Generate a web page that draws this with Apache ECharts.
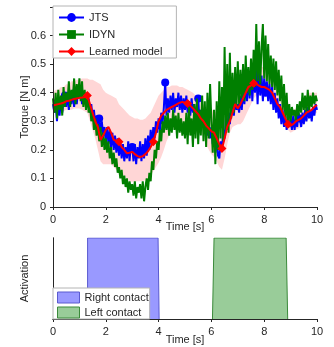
<!DOCTYPE html>
<html>
<head>
<meta charset="utf-8">
<script src="https://cdn.jsdelivr.net/npm/echarts@6/dist/echarts.min.js"></script>
<style>html,body{margin:0;padding:0;background:#fff}#c{width:334px;height:347px}</style>
</head>
<body>
<div id="c"></div>
<script>
// ---- time bases (x positions) ----
const t05 = Array.from({length: 201}, (_, i) => +(i * 0.05).toFixed(2));
const t10 = Array.from({length: 101}, (_, i) => +(i * 0.1).toFixed(1));
const xTicks = [0, 2, 4, 6, 8, 10];
const yTicks = [0, 0.1, 0.2, 0.3, 0.4, 0.5, 0.6];

// ---- JTS torque (every 0.05 s) ----
const jts = [
0.36,0.33,0.37,0.30,0.36,0.32,0.38,0.33,0.37,0.39,0.35,0.40,0.34,0.39,0.36,0.41,0.35,0.40,0.36,0.41,
0.38,0.41,0.36,0.40,0.37,0.39,0.35,0.38,0.33,0.36,0.31,0.34,0.29,0.32,0.28,0.31,0.26,0.30,0.25,0.28,
0.23,0.28,0.22,0.27,0.21,0.26,0.20,0.25,0.19,0.24,0.18,0.23,0.17,0.22,0.16,0.21,0.17,0.23,0.16,0.22,
0.21,0.16,0.22,0.15,0.21,0.17,0.23,0.16,0.22,0.17,0.24,0.18,0.25,0.20,0.27,0.22,0.28,0.24,0.30,0.26,
0.31,0.27,0.33,0.29,0.35,0.436,0.32,0.38,0.33,0.39,0.34,0.40,0.33,0.38,0.35,0.40,0.34,0.39,0.33,0.38,
0.34,0.39,0.33,0.37,0.32,0.38,0.33,0.36,0.32,0.35,0.38,0.30,0.34,0.28,0.33,0.26,0.31,0.25,0.29,0.24,
0.28,0.22,0.27,0.19,0.25,0.18,0.17,0.23,0.20,0.27,0.24,0.31,0.27,0.33,0.29,0.35,0.36,0.32,0.38,0.34,
0.36,0.33,0.39,0.34,0.41,0.36,0.44,0.37,0.46,0.38,0.48,0.37,0.47,0.40,0.48,0.36,0.49,0.39,0.46,0.37,
0.45,0.40,0.44,0.37,0.43,0.36,0.42,0.34,0.40,0.33,0.38,0.31,0.36,0.29,0.34,0.28,0.32,0.27,0.30,0.28,
0.31,0.27,0.32,0.27,0.31,0.28,0.33,0.31,0.28,0.33,0.29,0.34,0.30,0.35,0.31,0.34,0.30,0.35,0.32,0.36,
0.34];
const jtsMarks = [9, 35, 60, 85, 110, 136, 161, 187];

// ---- IDYN torque (every 0.05 s) ----
const idyn = [
0.38,0.33,0.40,0.31,0.41,0.34,0.39,0.32,0.42,0.35,0.40,0.37,0.44,0.35,0.41,0.38,0.45,0.36,0.43,0.38,
0.45,0.37,0.44,0.35,0.41,0.34,0.40,0.33,0.36,0.30,0.33,0.27,0.31,0.25,0.29,0.23,0.28,0.21,0.26,0.20,
0.24,0.19,0.23,0.17,0.21,0.15,0.19,0.14,0.17,0.12,0.14,0.10,0.13,0.08,0.11,0.07,0.10,0.05,0.09,0.06,
0.08,0.04,0.09,0.03,0.07,0.05,0.08,0.03,0.09,0.02,0.07,0.10,0.06,0.12,0.09,0.16,0.13,0.20,0.17,0.23,
0.20,0.27,0.23,0.30,0.26,0.32,0.27,0.33,0.25,0.31,0.26,0.34,0.27,0.32,0.24,0.33,0.26,0.31,0.25,0.30,
0.24,0.33,0.22,0.35,0.25,0.31,0.21,0.36,0.24,0.38,0.22,0.34,0.25,0.39,0.23,0.37,0.21,0.40,0.24,0.43,
0.30,0.19,0.34,0.15,0.37,0.20,0.44,0.24,0.42,0.23,0.56,0.27,0.50,0.26,0.54,0.31,0.47,0.33,0.49,0.35,
0.51,0.36,0.48,0.38,0.50,0.37,0.53,0.40,0.49,0.39,0.52,0.41,0.55,0.42,0.64,0.44,0.58,0.43,0.56,0.64,
0.45,0.60,0.44,0.57,0.43,0.53,0.42,0.52,0.41,0.51,0.39,0.48,0.37,0.46,0.34,0.43,0.31,0.40,0.29,0.36,
0.30,0.35,0.32,0.34,0.30,0.36,0.32,0.37,0.33,0.40,0.34,0.39,0.33,0.41,0.34,0.39,0.35,0.40,0.36,0.39,
0.37];

// ---- Learned model mean and band (every 0.1 s) ----
const model = [
0.355,0.358,0.36,0.362,0.365,0.37,0.372,0.375,0.378,0.38,
0.382,0.383,0.385,0.39,0.36,0.33,0.30,0.28,0.235,0.25,
0.27,0.28,0.26,0.235,0.232,0.228,0.21,0.20,0.188,0.19,
0.193,0.185,0.178,0.175,0.178,0.185,0.195,0.21,0.228,0.26,
0.30,0.32,0.33,0.34,0.345,0.35,0.355,0.36,0.365,0.368,
0.365,0.362,0.355,0.345,0.335,0.325,0.31,0.30,0.285,0.275,
0.265,0.26,0.24,0.22,0.205,0.24,0.28,0.30,0.33,0.36,
0.345,0.36,0.38,0.40,0.42,0.425,0.433,0.43,0.425,0.42,
0.42,0.415,0.41,0.40,0.38,0.36,0.35,0.33,0.31,0.29,
0.285,0.29,0.30,0.305,0.31,0.32,0.33,0.335,0.34,0.35,
0.357];
const modelMarks = [13, 25, 38, 51, 64, 76, 89];
const bandUpper = [
0.40,0.41,0.41,0.42,0.42,0.43,0.43,0.44,0.44,0.445,
0.445,0.45,0.45,0.45,0.445,0.445,0.44,0.435,0.43,0.41,
0.40,0.395,0.39,0.385,0.38,0.36,0.35,0.34,0.33,0.32,
0.315,0.31,0.31,0.305,0.305,0.31,0.32,0.33,0.35,0.37,
0.39,0.40,0.41,0.42,0.42,0.425,0.425,0.425,0.42,0.42,
0.415,0.41,0.405,0.40,0.39,0.38,0.37,0.36,0.35,0.34,
0.34,0.335,0.33,0.32,0.31,0.32,0.34,0.36,0.38,0.40,
0.41,0.42,0.43,0.44,0.45,0.46,0.47,0.48,0.485,0.49,
0.49,0.48,0.47,0.46,0.45,0.43,0.42,0.41,0.39,0.37,
0.34,0.34,0.345,0.35,0.36,0.38,0.39,0.40,0.40,0.40,
0.40];
const bandLower = [
0.33,0.33,0.33,0.335,0.335,0.34,0.34,0.34,0.345,0.345,
0.345,0.34,0.335,0.33,0.30,0.27,0.24,0.20,0.16,0.15,
0.15,0.15,0.15,0.14,0.13,0.12,0.115,0.11,0.10,0.09,
0.088,0.088,0.09,0.09,0.092,0.094,0.10,0.11,0.125,0.14,
0.155,0.175,0.20,0.23,0.25,0.27,0.28,0.285,0.29,0.29,
0.30,0.31,0.30,0.29,0.28,0.27,0.26,0.245,0.22,0.20,
0.185,0.175,0.16,0.14,0.13,0.17,0.22,0.26,0.28,0.285,
0.29,0.29,0.30,0.32,0.34,0.36,0.38,0.39,0.395,0.40,
0.40,0.40,0.395,0.38,0.36,0.345,0.33,0.31,0.29,0.27,
0.26,0.265,0.27,0.275,0.28,0.29,0.30,0.31,0.32,0.325,
0.33];

// ---- contact activation ----
const rightContactT = [1.31, 1.31, 3.98, 4.02];
const rightContactV = [0, 1, 1, 0];
const leftContactT = [6.04, 6.10, 8.83, 8.89];
const leftContactV = [0, 1, 1, 0];

const FONT = '"Liberation Sans", Arial, sans-serif';
const AX = '#262626';
const xy = (ts, vs) => vs.map((v, i) => [ts[i], v]);
const txt = {fontFamily: FONT, fontSize: 11, color: AX};
const line = {show: true, lineStyle: {color: AX, width: 1}};

const chart = echarts.init(document.getElementById('c'));
chart.setOption({
  animation: false,
  backgroundColor: '#fff',
  grid: [
    {left: 53, top: 7, width: 264, height: 200},
    {left: 53, top: 238, width: 264, height: 81}
  ],
  xAxis: [
    {type: 'value', gridIndex: 0, min: 0, max: 10, interval: 2, position: 'bottom', z: 6,
     name: 'Time [s]', nameLocation: 'middle', nameGap: 14, nameMoveOverlap: false, nameTextStyle: txt,
     axisLine: line, axisTick: {show: true, length: 3, lineStyle: {color: AX}},
     axisLabel: Object.assign({margin: 7}, txt), splitLine: {show: false}},
    {type: 'value', gridIndex: 0, min: 0, max: 10, interval: 2, position: 'top', z: 6,
     axisLine: line, axisTick: {show: true, inside: true, length: 3, lineStyle: {color: AX}},
     axisLabel: {show: false}, splitLine: {show: false}},
    {type: 'value', gridIndex: 1, min: 0, max: 10, interval: 2, position: 'bottom', z: 6,
     name: 'Time [s]', nameLocation: 'middle', nameGap: 15, nameMoveOverlap: false, nameTextStyle: txt,
     axisLine: line, axisTick: {show: true, length: 3, lineStyle: {color: AX}},
     axisLabel: Object.assign({margin: 7}, txt), splitLine: {show: false}},
    {type: 'value', gridIndex: 1, min: 0, max: 10, interval: 2, position: 'top', z: 6,
     axisLine: line, axisTick: {show: true, inside: true, length: 3, lineStyle: {color: AX}},
     axisLabel: {show: false}, splitLine: {show: false}}
  ],
  yAxis: [
    {type: 'value', gridIndex: 0, min: 0, max: 0.7, interval: 0.1, position: 'left', z: 6,
     name: 'Torque [N m]', nameLocation: 'middle', nameGap: 23, nameMoveOverlap: false, nameTextStyle: txt,
     axisLine: line, axisTick: {show: true, length: 3, lineStyle: {color: AX}},
     axisLabel: Object.assign({margin: 7, showMaxLabel: false,
       formatter: v => (yTicks.some(k => Math.abs(k - v) < 1e-6) ? String(+v.toFixed(1)) : '')}, txt),
     splitLine: {show: false}},
    {type: 'value', gridIndex: 0, min: 0, max: 0.7, interval: 0.1, position: 'right', z: 6,
     axisLine: line, axisTick: {show: true, inside: true, length: 3, lineStyle: {color: AX}},
     axisLabel: {show: false}, splitLine: {show: false}},
    {type: 'value', gridIndex: 1, min: 0, max: 1, position: 'left', z: 6,
     name: 'Activation', nameLocation: 'middle', nameGap: 23, nameMoveOverlap: false, nameTextStyle: txt,
     axisLine: line, axisTick: {show: false}, axisLabel: {show: false}, splitLine: {show: false}},
    {type: 'value', gridIndex: 1, min: 0, max: 1, position: 'right', z: 6,
     axisLine: line, axisTick: {show: false}, axisLabel: {show: false}, splitLine: {show: false}}
  ],
  legend: [
    {data: ['JTS', 'IDYN', 'Learned model'], orient: 'vertical', left: 53, top: 6,
     itemWidth: 25, itemHeight: 11, itemGap: 4, padding: [5, 14, 0, 5],
     backgroundColor: '#fff', borderColor: '#b4b4b4', borderWidth: 1, borderRadius: 0,
     textStyle: Object.assign({lineHeight: 13}, txt), selectedMode: false, z: 10},
    {data: [
      {name: 'Right contact', icon: 'rect', itemStyle: {color: '#9999ff', borderColor: '#5a5ad0', borderWidth: 1}},
      {name: 'Left contact', icon: 'rect', itemStyle: {color: '#99cc99', borderColor: '#3b8a3b', borderWidth: 1}}],
     orient: 'vertical', left: 53, top: 288,
     itemWidth: 22, itemHeight: 11, itemGap: 2, padding: [3, 1, 0, 4],
     backgroundColor: '#fff', borderColor: '#b4b4b4', borderWidth: 1, borderRadius: 0,
     textStyle: Object.assign({lineHeight: 13}, txt), selectedMode: false, z: 10}
  ],
  series: [
    {name: 'band-upper', type: 'line', xAxisIndex: 0, yAxisIndex: 0,
     data: xy(t10, bandUpper), symbol: 'none', lineStyle: {opacity: 0},
     areaStyle: {color: '#ffd6d6', opacity: 1, origin: 'start'}, silent: true, z: 1},
    {name: 'band-lower', type: 'line', xAxisIndex: 0, yAxisIndex: 0,
     data: xy(t10, bandLower), symbol: 'none', lineStyle: {opacity: 0},
     areaStyle: {color: '#ffffff', opacity: 1, origin: 'start'}, silent: true, z: 1},
    {name: 'JTS', type: 'line', xAxisIndex: 0, yAxisIndex: 0, data: xy(t05, jts),
     symbol: 'circle', showSymbol: true, symbolSize: (v, p) => (jtsMarks.includes(p.dataIndex) ? 8 : 0),
     color: '#0000ff', itemStyle: {color: '#0000ff'}, lineStyle: {color: '#0000ff', width: 2}, z: 3},
    {name: 'IDYN', type: 'line', xAxisIndex: 0, yAxisIndex: 0, data: xy(t05, idyn),
     symbol: 'rect', showSymbol: false,
     color: '#007f00', itemStyle: {color: '#007f00'}, lineStyle: {color: '#007f00', width: 2}, z: 4},
    {name: 'Learned model', type: 'line', xAxisIndex: 0, yAxisIndex: 0, data: xy(t10, model),
     symbol: 'diamond', showSymbol: true, symbolSize: (v, p) => (modelMarks.includes(p.dataIndex) ? 9 : 0),
     color: '#ff0000', itemStyle: {color: '#ff0000'}, lineStyle: {color: '#ff0000', width: 2}, z: 5},
    {name: 'Right contact', type: 'line', xAxisIndex: 2, yAxisIndex: 2, data: xy(rightContactT, rightContactV),
     symbol: 'none', color: '#9999ff', lineStyle: {color: '#5a5ad0', width: 1},
     areaStyle: {color: '#9999ff', opacity: 1}},
    {name: 'Left contact', type: 'line', xAxisIndex: 2, yAxisIndex: 2, data: xy(leftContactT, leftContactV),
     symbol: 'none', color: '#99cc99', lineStyle: {color: '#3b8a3b', width: 1},
     areaStyle: {color: '#99cc99', opacity: 1}}
  ]
});
</script>
</body>
</html>
